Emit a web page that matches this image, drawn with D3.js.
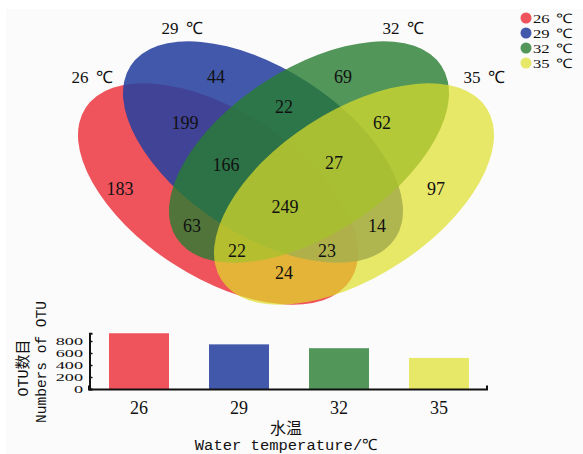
<!DOCTYPE html>
<html>
<head>
<meta charset="utf-8">
<style>
  body { margin: 0; background: #fff; }
  text { font-family: "Liberation Serif", serif; fill: #111; }
  .mono { font-family: "Liberation Mono", monospace; }
  .cjk { font-family: "Noto Sans CJK SC", sans-serif; }
</style>
</head>
<body>
<script src="https://cdn.jsdelivr.net/npm/d3@7"></script>
<script>

// ---- data ----
var setNames = ["26 ℃", "29 ℃", "32 ℃", "35 ℃"];
var setColors = ["#ec3540", "#26409e", "#287d32", "#dede2a"];
var setAlpha = [0.85, 0.87, 0.8, 0.7];

// region counts of the venn (only 26, only 29, ... all four)
var regionCounts = [183, 44, 69, 97, 199, 22, 62, 24, 63, 14, 166, 27, 22, 23, 249];

var temps = ["26", "29", "32", "35"];
var otuTotals = [929, 744, 680, 518];
var yTicks = [0, 200, 400, 600, 800];

// ---- layout ----
var W = 583, H = 454;
var svg = d3.select("body").append("svg")
    .attr("width", W)
    .attr("height", H);

svg.append("rect")
    .attr("x", 6).attr("y", 9)
    .attr("width", W - 6).attr("height", H - 9)
    .attr("fill", "#fbfbfb");

// ellipses: centres and tilt (pixels / degrees)
var ell = [
  {cx: 218, cy: 194, rot: 33},
  {cx: 263, cy: 152, rot: 33},
  {cx: 309, cy: 152, rot: -33},
  {cx: 354, cy: 194, rot: -33}
];
var ra = 158, rb = 83;

var venn = svg.append("g");
venn.selectAll("ellipse")
  .data(ell)
  .enter().append("ellipse")
    .attr("cx", 0).attr("cy", 0)
    .attr("rx", ra).attr("ry", rb)
    .attr("transform", function(d) { return "translate(" + d.cx + "," + d.cy + ") rotate(" + d.rot + ")"; })
    .attr("fill", function(d, i) { return setColors[i]; })
    .attr("fill-opacity", function(d, i) { return setAlpha[i]; });

// set labels
var setLabelPos = [[92, 77], [182, 28], [403, 28], [484, 77]];
venn.selectAll("text.set")
  .data(setNames)
  .enter().append("text")
    .attr("class", "set")
    .attr("x", function(d, i) { return setLabelPos[i][0]; })
    .attr("y", function(d, i) { return setLabelPos[i][1]; })
    .attr("dy", "0.35em")
    .attr("text-anchor", "middle")
    .style("font-size", "17px")
    .style("word-spacing", "3px")
    .text(function(d) { return d; });

// region labels
var regionPos = [[120, 189], [216, 77], [343, 77], [436, 189],
                 [185, 123], [284, 107], [382, 123], [284, 273],
                 [192, 226], [377, 226],
                 [226, 165], [334, 163], [237, 251], [327, 251],
                 [285, 207]];
venn.selectAll("text.count")
  .data(regionCounts)
  .enter().append("text")
    .attr("class", "count")
    .attr("x", function(d, i) { return regionPos[i][0]; })
    .attr("y", function(d, i) { return regionPos[i][1]; })
    .attr("dy", "0.35em")
    .attr("text-anchor", "middle")
    .style("font-size", "18px")
    .text(function(d) { return d; });

// legend
var legend = svg.append("g").attr("transform", "translate(526,18)");
var li = legend.selectAll("g")
  .data(setNames)
  .enter().append("g")
    .attr("transform", function(d, i) { return "translate(0," + (i * 15) + ")"; });
li.append("circle")
    .attr("r", 5.5)
    .attr("fill", function(d, i) { return setColors[i]; })
    .attr("fill-opacity", function(d, i) { return setAlpha[i]; });
li.append("text")
    .attr("x", 6)
    .attr("dy", "0.35em")
    .attr("transform", "scale(1.15,0.9)")
    .style("font-size", "14.5px")
    .style("word-spacing", "2px")
    .text(function(d) { return d; });

// ---- bar chart ----
var x = d3.scaleBand()
    .domain(temps)
    .range([89, 489])
    .paddingInner(0.4)
    .paddingOuter(0.2);

var y = d3.scaleLinear()
    .domain([0, d3.max(otuTotals)])
    .range([389, 389 - d3.max(otuTotals) * 0.06]);

var bars = svg.append("g");
bars.selectAll("rect")
  .data(otuTotals)
  .enter().append("rect")
    .attr("x", function(d, i) { return x(temps[i]); })
    .attr("y", function(d) { return y(d); })
    .attr("width", x.bandwidth())
    .attr("height", function(d) { return y(0) - y(d); })
    .attr("fill", function(d, i) { return setColors[i]; })
    .attr("fill-opacity", function(d, i) { return setAlpha[i]; });

var yAxis = d3.axisLeft(y)
    .tickValues(yTicks)
    .tickSizeInner(-3)
    .tickSizeOuter(-3)
    .tickPadding(5);

var gy = svg.append("g")
    .attr("transform", "translate(89.5,0)")
    .call(yAxis);
// the printed tick labels are squat and packed tight
gy.selectAll("text")
    .style("font-size", "14px")
    .attr("fill", "#111")
    .attr("transform", "scale(1.3,0.78)");

var xAxis = d3.axisBottom(x)
    .tickSizeInner(0)
    .tickSizeOuter(-4)
    .tickPadding(12);

var gx = svg.append("g")
    .attr("transform", "translate(0,389.5)")
    .call(xAxis);
gx.selectAll("text").style("font-size", "18px").attr("fill", "#111");
gx.select(".domain").attr("d", "M89,-4V0H487V-4");

svg.selectAll(".domain").attr("stroke", "#111").attr("stroke-width", 2);
gy.selectAll(".tick line").attr("stroke", "#111").attr("stroke-width", 1.5);

// axis titles
svg.append("text")
    .attr("class", "cjk")
    .attr("x", 286).attr("y", 428)
    .attr("dy", "0.35em")
    .attr("text-anchor", "middle")
    .style("font-size", "16px")
    .text("水温");

svg.append("text")
    .attr("class", "mono")
    .attr("x", 286).attr("y", 445)
    .attr("dy", "0.35em")
    .attr("text-anchor", "middle")
    .style("font-size", "15.5px")
    .text("Water temperature/℃");

svg.append("text")
    .attr("transform", "translate(23,368) rotate(-90)")
    .attr("dy", "0.35em")
    .attr("text-anchor", "middle")
    .style("font-size", "15px")
    .html('<tspan class="mono">OTU</tspan><tspan class="cjk">数目</tspan>');

svg.append("text")
    .attr("class", "mono")
    .attr("transform", "translate(41,362) rotate(-90)")
    .attr("dy", "0.35em")
    .attr("text-anchor", "middle")
    .style("font-size", "14.5px")
    .text("Numbers of OTU");

</script>
</body>
</html>
